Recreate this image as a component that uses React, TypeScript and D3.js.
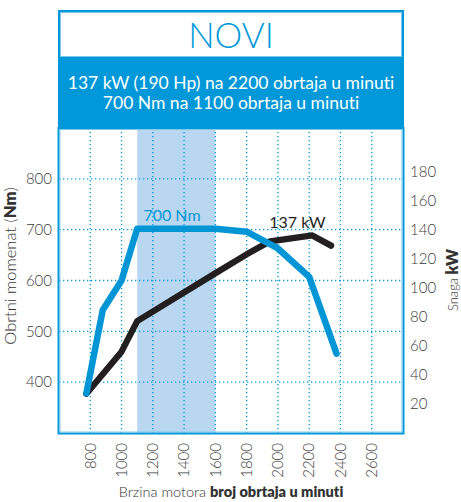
import { useMemo } from "react";
import * as d3 from "d3";

const W = 461;
const H = 502;
const BOX = { left: 59, right: 403, top: 128, bottom: 433 };

const title = "NOVI";
const subtitle = [
  "137 kW (190 Hp) na 2200 obrtaja u minuti",
  "700 Nm na 1100 obrtaja u minuti",
];

// torque curve (Nm)
const torqueRpm = [775, 880, 1000, 1100, 1600, 1800, 2000, 2200, 2375];
const torqueNm = [378, 542, 600, 702, 702, 696, 663, 607, 456];

// power curve (kW)
const powerRpm = [775, 1000, 1100, 1600, 1800, 1950, 2220, 2340];
const powerKw = [27, 56, 77, 110, 123, 132, 136, 129];

const rpmTicks = [800, 1000, 1200, 1400, 1600, 1800, 2000, 2200, 2400, 2600];
const nmTicks = [400, 500, 600, 700, 800];
const kwTicks = [20, 40, 60, 80, 100, 120, 140, 160, 180];
const peakBand = [1100, 1600];

const BLUE = "#0098d8";
const LIGHT = "#7cc8ee";
const DARK = "#231f20";
const FONT = "Lato, 'Open Sans', sans-serif";

export default function App() {
  const x = useMemo(
    () => d3.scaleLinear().domain([600, 2800]).range([BOX.left, BOX.right]),
    []
  );
  const yNm = useMemo(
    () => d3.scaleLinear().domain([300, 900]).range([BOX.bottom, BOX.top]),
    []
  );
  const yKw = useMemo(
    () => d3.scaleLinear().domain([0, 210]).range([BOX.bottom, BOX.top]),
    []
  );

  const torqueLine = d3
    .line<number>()
    .x((_, i) => x(torqueRpm[i]))
    .y((d) => yNm(d));
  const powerLine = d3
    .line<number>()
    .x((_, i) => x(powerRpm[i]))
    .y((d) => yKw(d));

  // double border: dark outer stroke + light inner stroke
  const frame = (x0: number, y0: number, x1: number, y1: number) => (
    <g fill="none">
      <rect x={x0 + 1} y={y0 + 1} width={x1 - x0 - 2} height={y1 - y0 - 2} stroke={BLUE} strokeWidth={2} />
      <rect x={x0 + 2.5} y={y0 + 2.5} width={x1 - x0 - 5} height={y1 - y0 - 5} stroke={LIGHT} strokeWidth={1} />
    </g>
  );

  return (
    <div style={{ position: "absolute", left: 0, top: 0 }}>
      <svg
        width={W}
        height={H}
        style={{ display: "block", fontFamily: FONT, fontVariantLigatures: "none" }}
      >
        <rect width={W} height={H} fill="#fff" />

        {/* header */}
        {frame(58, 10, 404, 59)}
        <text x={231} y={48} textAnchor="middle" fill={BLUE} fontSize={35} fontWeight={300}>
          {title}
        </text>
        <rect x={58} y={58} width={346} height={70} fill={BLUE} />
        {subtitle.map((s, i) => (
          <text key={i} x={231} y={89 + i * 20} textAnchor="middle" fill="#fff" fontSize={17.5}>
            {s}
          </text>
        ))}

        {/* chart box */}
        <rect
          x={x(peakBand[0])}
          y={BOX.top}
          width={x(peakBand[1]) - x(peakBand[0])}
          height={BOX.bottom - BOX.top}
          fill="#b9d7f0"
        />
        <g stroke={BLUE} strokeWidth={1.3} strokeDasharray="1.3 2.7" fill="none">
          {rpmTicks.map((t) => (
            <line key={t} x1={x(t)} x2={x(t)} y1={BOX.top} y2={BOX.bottom} />
          ))}
          {nmTicks.map((t) => (
            <line key={t} x1={BOX.left} x2={BOX.right} y1={yNm(t)} y2={yNm(t)} />
          ))}
        </g>
        {frame(57.5, 127, 404.5, 434.5)}

        {/* curves */}
        <path d={powerLine(powerKw) ?? ""} fill="none" stroke={DARK} strokeWidth={6.3} strokeLinecap="round" strokeLinejoin="round" />
        <path d={torqueLine(torqueNm) ?? ""} fill="none" stroke="#0096d6" strokeWidth={6.5} strokeLinecap="round" strokeLinejoin="round" />

        <text x={x(1140)} y={yNm(718)} fill="#0096d6" fontSize={16}>700 Nm</text>
        <text x={x(1945)} y={yKw(141)} fill={DARK} fontSize={16}>137 kW</text>

        {/* left axis */}
        {nmTicks.map((t) => (
          <text key={t} x={52} y={yNm(t)} dy="0.35em" textAnchor="end" fill="#3a3a3a" fontSize={15} fontWeight={300}>
            {t}
          </text>
        ))}
        <text transform={`translate(16,266) rotate(-90)`} textAnchor="middle" fill="#333" fontSize={16.5} fontWeight={300}>
          Obrtni momenat (<tspan fontWeight={800}>Nm</tspan>)
        </text>

        {/* right axis */}
        {kwTicks.map((t) => (
          <text key={t} x={410} y={yKw(t)} dy="0.35em" fill="#3a3a3a" fontSize={15} fontWeight={300}>
            {t}
          </text>
        ))}
        <text transform={`translate(458,280) rotate(-90)`} textAnchor="middle" fill="#333" fontSize={13} fontWeight={300}>
          Snaga <tspan fontWeight={800} fontSize={16}>kW</tspan>
        </text>

        {/* bottom axis */}
        {rpmTicks.map((t) => (
          <text
            key={t}
            transform={`translate(${x(t)},443) rotate(-90)`}
            textAnchor="end"
            dy="0.35em"
            fill="#3a3a3a"
            fontSize={15}
            fontWeight={300}
          >
            {t}
          </text>
        ))}
        <text x={231} y={497} textAnchor="middle" fill="#333" fontSize={14.5} fontWeight={300}>
          Brzina motora <tspan fontWeight={800}>broj obrtaja u minuti</tspan>
        </text>
      </svg>
    </div>
  );
}
